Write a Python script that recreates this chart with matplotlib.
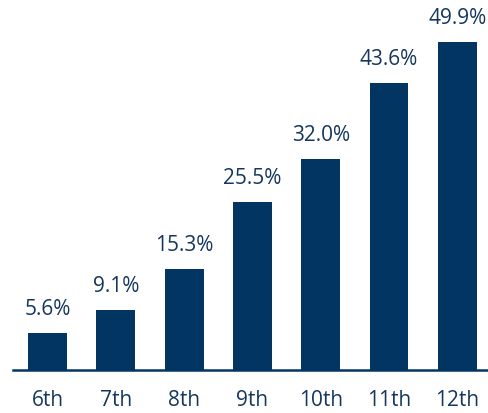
import matplotlib
matplotlib.use("Agg")
import matplotlib.pyplot as plt

grades = ["6th", "7th", "8th", "9th", "10th", "11th", "12th"]
rates = [5.6, 9.1, 15.3, 25.5, 32.0, 43.6, 49.9]

NAVY = "#033563"
TEXT = "#15375d"

plt.rcParams["font.family"] = ["Open Sans", "DejaVu Sans"]

fig = plt.figure(figsize=(4.88, 4.13), dpi=100)
ax = fig.add_axes([13 / 488, 43.5 / 413, 1 - 13 / 488, 369.5 / 413])

x = range(len(grades))
bars = ax.bar(x, rates, width=0.57, color=NAVY)
for b, v in zip(bars, rates):
    ax.annotate(f"{v:.1f}%", (b.get_x() + b.get_width() / 2, v),
                xytext=(0, 13), textcoords="offset points",
                ha="center", va="baseline", fontsize=15, color=TEXT)

ax.set_xlim(-0.505, 6.45)
ax.set_ylim(0, 56.3)
ax.set_xticks(list(x))
ax.set_xticklabels(grades, fontsize=15, color=TEXT)
ax.tick_params(axis="x", length=0, pad=15)
ax.set_yticks([])
for side in ("top", "left", "right"):
    ax.spines[side].set_visible(False)
ax.spines["bottom"].set_color(NAVY)
ax.spines["bottom"].set_linewidth(1.8)

fig.savefig("out.png", dpi=100)
